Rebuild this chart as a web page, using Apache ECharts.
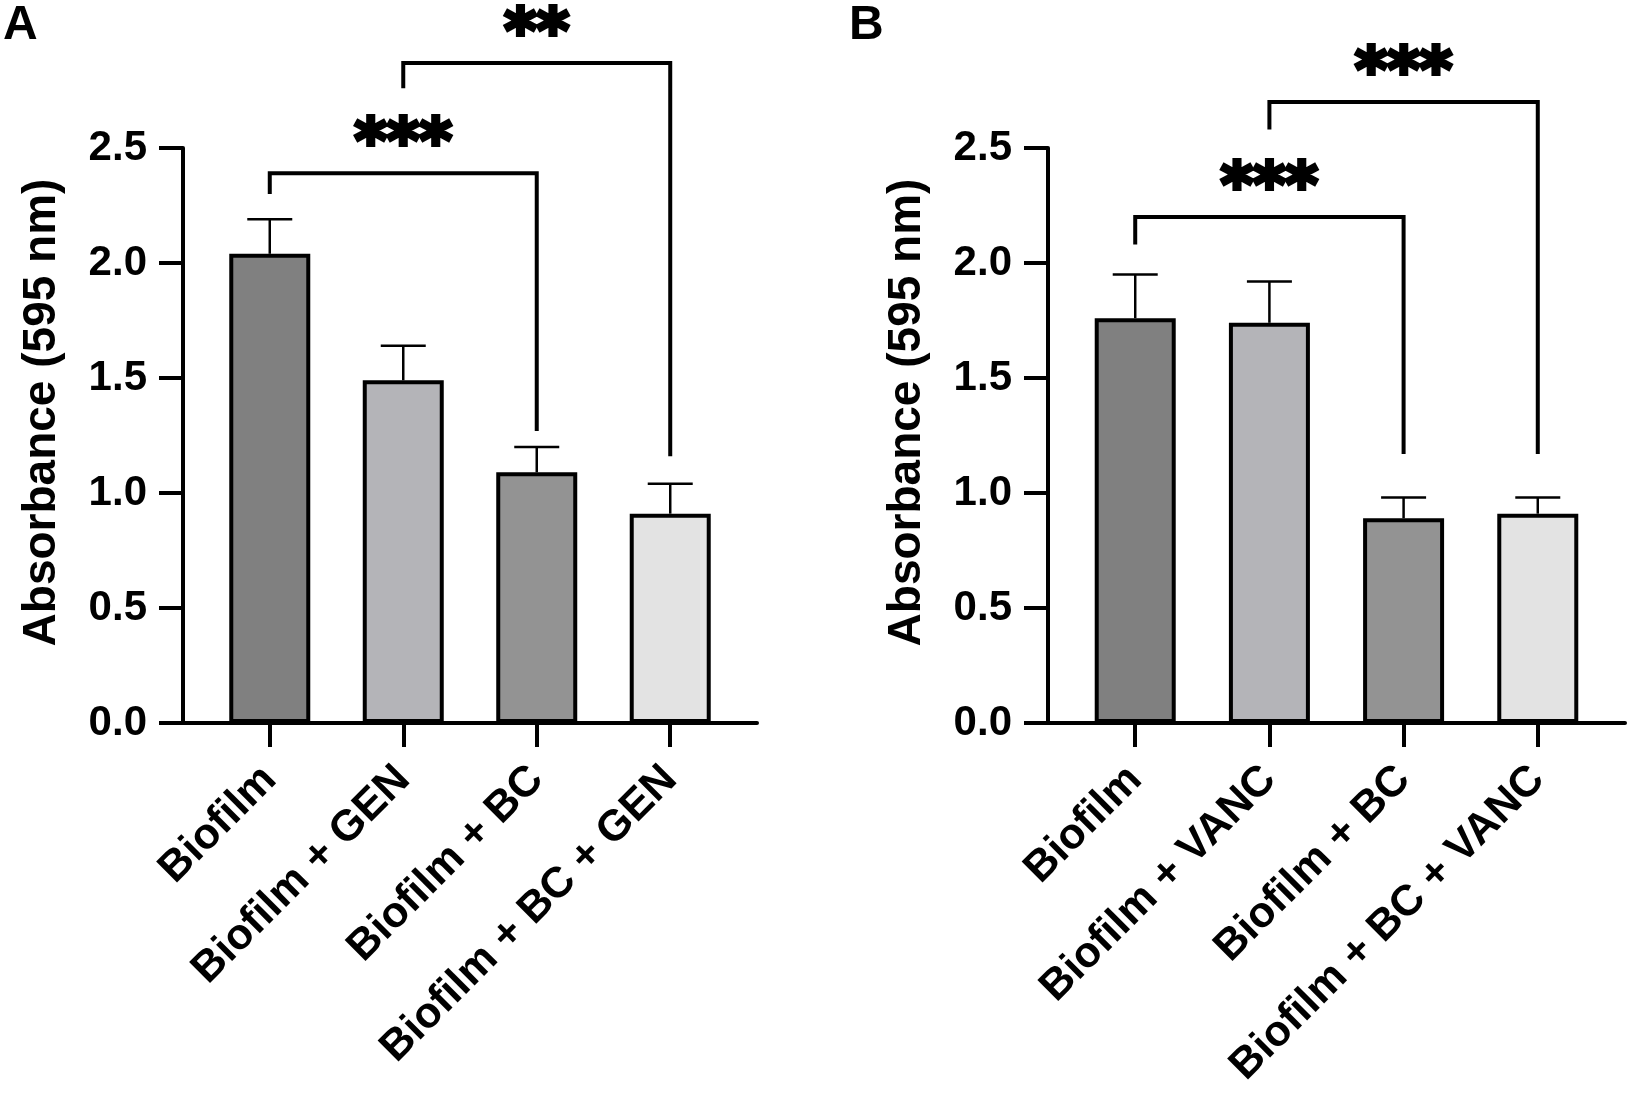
<!DOCTYPE html>
<html>
<head>
<meta charset="utf-8">
<script src="https://cdn.jsdelivr.net/npm/echarts@6/dist/echarts.min.js"></script>
<style>
html,body{margin:0;padding:0;background:#fff;}
#chart{width:1630px;height:1094px;}
</style>
</head>
<body>
<div id="chart"></div>
<script>
// ---------- data ----------
const categoriesA = ['Biofilm', 'Biofilm + GEN', 'Biofilm + BC', 'Biofilm + BC + GEN'];
const categoriesB = ['Biofilm', 'Biofilm + VANC', 'Biofilm + BC', 'Biofilm + BC + VANC'];
const meanA = [2.04, 1.49, 1.09, 0.91];
const sdA   = [0.15, 0.15, 0.11, 0.13];
const meanB = [1.76, 1.74, 0.89, 0.91];
const sdB   = [0.19, 0.18, 0.09, 0.07];
const barColors = ['#808080', '#b4b4b8', '#939393', '#e3e3e3'];
const yMin = 0, yMax = 2.5, yStep = 0.5;
const yTitle = 'Absorbance (595 nm)';
const panelLabels = ['A', 'B'];
// significance brackets
const bracketFromA = [0, 1], bracketToA = [2, 3];
const bracketYA = [2.39, 2.87], bracketLeftEndA = [2.30, 2.76], bracketRightEndA = [1.27, 1.16];
const sigA = ['***', '**'];
const bracketFromB = [0, 1], bracketToB = [2, 3];
const bracketYB = [2.20, 2.70], bracketLeftEndB = [2.08, 2.58], bracketRightEndB = [1.17, 1.17];
const sigB = ['***', '***'];

// ---------- styles ----------
const FONT = '"Liberation Sans", Arial, Helvetica, sans-serif';
const STAR_FONT = 'bold 62px "DejaVu Sans", sans-serif';
const STAR_GAP = 27;
const grids = [
  {left: 183, top: 148, width: 574, height: 575},
  {left: 1048, top: 148, width: 577, height: 575}
];
const idx = [0, 1, 2, 3];

function xAxisFor(gi, cats) {
  return {
    type: 'value', gridIndex: gi, min: -0.65, max: 3.65,
    splitLine: {show: false},
    axisLine: {show: true, onZero: false, lineStyle: {color: '#000', width: 4}},
    axisTick: {show: true, customValues: idx, length: 24, lineStyle: {color: '#000', width: 4}},
    axisLabel: {
      show: true, customValues: idx, rotate: 45, margin: 50,
      formatter: v => cats[Math.round(v)],
      fontSize: 43, fontWeight: 'bold', fontFamily: FONT, color: '#000'
    }
  };
}
function yAxisFor(gi) {
  return {
    type: 'value', gridIndex: gi, min: yMin, max: yMax, interval: yStep,
    splitLine: {show: false},
    axisLine: {show: true, onZero: false, lineStyle: {color: '#000', width: 4}},
    axisTick: {show: true, length: 24, lineStyle: {color: '#000', width: 4}},
    axisLabel: {
      margin: 36, formatter: v => v.toFixed(1),
      fontSize: 42, fontWeight: 'bold', fontFamily: FONT, color: '#000'
    },
    name: yTitle, nameLocation: 'middle', nameGap: 118, nameRotate: 90,
    nameTextStyle: {fontSize: 46, fontWeight: 'bold', fontFamily: FONT, color: '#000', padding: [0, 0, 0, 46]}
  };
}

function barSeries(gi, means) {
  return {
    type: 'bar', xAxisIndex: gi, yAxisIndex: gi, barWidth: 81,
    data: means.map((m, i) => ({value: [i, m], itemStyle: {color: barColors[i]}})),
    itemStyle: {borderColor: '#000', borderWidth: 4},
    z: 2, silent: true
  };
}
function errSeries(gi, means, sds) {
  return {
    type: 'custom', xAxisIndex: gi, yAxisIndex: gi, z: 3, silent: true, clip: false,
    data: means.map((m, i) => [i, m, m + sds[i]]),
    encode: {x: 0, y: [1, 2]},
    renderItem: (params, api) => {
      const p0 = api.coord([api.value(0), api.value(1)]);
      const p1 = api.coord([api.value(0), api.value(2)]);
      const st = {stroke: '#000', lineWidth: 2.5};
      return {type: 'group', children: [
        {type: 'line', shape: {x1: p0[0], y1: p0[1], x2: p1[0], y2: p1[1]}, style: st},
        {type: 'line', shape: {x1: p1[0] - 22.5, y1: p1[1], x2: p1[0] + 22.5, y2: p1[1]}, style: st}
      ]};
    }
  };
}
function bracketSeries(gi, from, to, ys, lefts, rights, sig) {
  return {
    type: 'custom', xAxisIndex: gi, yAxisIndex: gi, z: 4, silent: true, clip: false,
    data: from.map((f, i) => [f, to[i], ys[i], lefts[i], rights[i], i]),
    encode: {x: [0, 1], y: [2, 3, 4]},
    renderItem: (params, api) => {
      const k = api.value(5);
      const a = api.coord([api.value(0), api.value(3)]);
      const b = api.coord([api.value(0), api.value(2)]);
      const c = api.coord([api.value(1), api.value(2)]);
      const d = api.coord([api.value(1), api.value(4)]);
      return {type: 'group', children: [
        {type: 'polyline', shape: {points: [a, b, c, d]},
         style: {stroke: '#000', lineWidth: 4, fill: null, lineJoin: 'miter'}},
        {type: 'text', x: (b[0] + c[0]) / 2, y: b[1] - STAR_GAP,
         style: {text: sig[k], font: STAR_FONT, fill: '#000', stroke: '#000', lineWidth: 4,
                 lineJoin: 'round', align: 'center', verticalAlign: 'middle'}}
      ]};
    }
  };
}

const chart = echarts.init(document.getElementById('chart'), null, {renderer: 'canvas'});
chart.setOption({
  backgroundColor: '#fff',
  animation: false,
  grid: grids,
  xAxis: [xAxisFor(0, categoriesA), xAxisFor(1, categoriesB)],
  yAxis: [yAxisFor(0), yAxisFor(1)],
  graphic: [
    {type: 'text', x: 3, y: 26, style: {text: panelLabels[0], font: 'bold 48px ' + FONT, fill: '#000', verticalAlign: 'middle'}},
    {type: 'text', x: 849, y: 26, style: {text: panelLabels[1], font: 'bold 48px ' + FONT, fill: '#000', verticalAlign: 'middle'}}
  ],
  series: [
    barSeries(0, meanA), errSeries(0, meanA, sdA),
    bracketSeries(0, bracketFromA, bracketToA, bracketYA, bracketLeftEndA, bracketRightEndA, sigA),
    barSeries(1, meanB), errSeries(1, meanB, sdB),
    bracketSeries(1, bracketFromB, bracketToB, bracketYB, bracketLeftEndB, bracketRightEndB, sigB)
  ]
});
</script>
</body>
</html>
